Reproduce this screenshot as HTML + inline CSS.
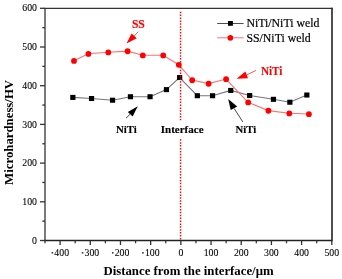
<!DOCTYPE html>
<html><head><meta charset="utf-8"><style>
html,body{margin:0;padding:0;background:#fff;}
body{width:342px;height:279px;overflow:hidden;}
svg{display:block;will-change:transform;}
text{font-family:"Liberation Serif",serif;}
.tk{font-size:11.4px;fill:#000;stroke:#000;stroke-width:0.1px;}
.lg{font-size:12px;fill:#000;stroke:#000;stroke-width:0.2px;}
.an{font-size:11.3px;font-weight:bold;stroke-width:0.15px;}
.an2{font-size:11.9px;font-weight:bold;stroke-width:0.12px;}
.ss{font-size:12px;font-weight:bold;stroke:#ff0000;stroke-width:0.2px;}
.ti{font-size:12.8px;font-weight:bold;fill:#000;}
</style></head><body>
<svg width="342" height="279" viewBox="0 0 342 279">
<line x1="44.35" y1="8.45" x2="332.7" y2="8.45" stroke="#333" stroke-width="1.3"/>
<line x1="45.0" y1="8.45" x2="45.0" y2="240.55" stroke="#333" stroke-width="1.3"/>
<line x1="332.0" y1="7.799999999999999" x2="332.0" y2="240.55" stroke="#222" stroke-width="1.6"/>
<line x1="44.35" y1="240.55" x2="332.7" y2="240.55" stroke="#222" stroke-width="1.4"/>
<line x1="40.0" y1="240.50" x2="45.0" y2="240.50" stroke="#333" stroke-width="1.3"/>
<text transform="translate(37.00,243.60) scale(0.86,1)" class="tk" text-anchor="end">0</text>
<line x1="42.3" y1="221.15" x2="45.0" y2="221.15" stroke="#333" stroke-width="1.3"/>
<line x1="40.0" y1="201.80" x2="45.0" y2="201.80" stroke="#333" stroke-width="1.3"/>
<text transform="translate(37.00,204.90) scale(0.86,1)" class="tk" text-anchor="end">100</text>
<line x1="42.3" y1="182.45" x2="45.0" y2="182.45" stroke="#333" stroke-width="1.3"/>
<line x1="40.0" y1="163.10" x2="45.0" y2="163.10" stroke="#333" stroke-width="1.3"/>
<text transform="translate(37.00,166.20) scale(0.86,1)" class="tk" text-anchor="end">200</text>
<line x1="42.3" y1="143.75" x2="45.0" y2="143.75" stroke="#333" stroke-width="1.3"/>
<line x1="40.0" y1="124.40" x2="45.0" y2="124.40" stroke="#333" stroke-width="1.3"/>
<text transform="translate(37.00,127.50) scale(0.86,1)" class="tk" text-anchor="end">300</text>
<line x1="42.3" y1="105.05" x2="45.0" y2="105.05" stroke="#333" stroke-width="1.3"/>
<line x1="40.0" y1="85.70" x2="45.0" y2="85.70" stroke="#333" stroke-width="1.3"/>
<text transform="translate(37.00,88.80) scale(0.86,1)" class="tk" text-anchor="end">400</text>
<line x1="42.3" y1="66.35" x2="45.0" y2="66.35" stroke="#333" stroke-width="1.3"/>
<line x1="40.0" y1="47.00" x2="45.0" y2="47.00" stroke="#333" stroke-width="1.3"/>
<text transform="translate(37.00,50.10) scale(0.86,1)" class="tk" text-anchor="end">500</text>
<line x1="42.3" y1="27.65" x2="45.0" y2="27.65" stroke="#333" stroke-width="1.3"/>
<line x1="40.0" y1="8.30" x2="45.0" y2="8.30" stroke="#333" stroke-width="1.3"/>
<text transform="translate(37.00,11.40) scale(0.86,1)" class="tk" text-anchor="end">600</text>
<line x1="45.00" y1="240.55" x2="45.00" y2="243.25" stroke="#333" stroke-width="1.3"/>
<line x1="60.09" y1="240.55" x2="60.09" y2="245.05" stroke="#333" stroke-width="1.3"/>
<text transform="translate(69.04,255.60) scale(0.86,1)" class="tk" text-anchor="end">400</text>
<rect x="51.59" y="252.2" width="1.6" height="1.3" fill="#111"/>
<line x1="75.18" y1="240.55" x2="75.18" y2="243.25" stroke="#333" stroke-width="1.3"/>
<line x1="90.28" y1="240.55" x2="90.28" y2="245.05" stroke="#333" stroke-width="1.3"/>
<text transform="translate(99.23,255.60) scale(0.86,1)" class="tk" text-anchor="end">300</text>
<rect x="81.78" y="252.2" width="1.6" height="1.3" fill="#111"/>
<line x1="105.38" y1="240.55" x2="105.38" y2="243.25" stroke="#333" stroke-width="1.3"/>
<line x1="120.47" y1="240.55" x2="120.47" y2="245.05" stroke="#333" stroke-width="1.3"/>
<text transform="translate(129.42,255.60) scale(0.86,1)" class="tk" text-anchor="end">200</text>
<rect x="111.97" y="252.2" width="1.6" height="1.3" fill="#111"/>
<line x1="135.56" y1="240.55" x2="135.56" y2="243.25" stroke="#333" stroke-width="1.3"/>
<line x1="150.66" y1="240.55" x2="150.66" y2="245.05" stroke="#333" stroke-width="1.3"/>
<text transform="translate(159.61,255.60) scale(0.86,1)" class="tk" text-anchor="end">100</text>
<rect x="142.16" y="252.2" width="1.6" height="1.3" fill="#111"/>
<line x1="165.75" y1="240.55" x2="165.75" y2="243.25" stroke="#333" stroke-width="1.3"/>
<line x1="180.85" y1="240.55" x2="180.85" y2="245.05" stroke="#333" stroke-width="1.3"/>
<text transform="translate(180.85,255.60) scale(0.86,1)" class="tk" text-anchor="middle">0</text>
<line x1="195.94" y1="240.55" x2="195.94" y2="243.25" stroke="#333" stroke-width="1.3"/>
<line x1="211.04" y1="240.55" x2="211.04" y2="245.05" stroke="#333" stroke-width="1.3"/>
<text transform="translate(211.04,255.60) scale(0.86,1)" class="tk" text-anchor="middle">100</text>
<line x1="226.13" y1="240.55" x2="226.13" y2="243.25" stroke="#333" stroke-width="1.3"/>
<line x1="241.23" y1="240.55" x2="241.23" y2="245.05" stroke="#333" stroke-width="1.3"/>
<text transform="translate(241.23,255.60) scale(0.86,1)" class="tk" text-anchor="middle">200</text>
<line x1="256.32" y1="240.55" x2="256.32" y2="243.25" stroke="#333" stroke-width="1.3"/>
<line x1="271.42" y1="240.55" x2="271.42" y2="245.05" stroke="#333" stroke-width="1.3"/>
<text transform="translate(271.42,255.60) scale(0.86,1)" class="tk" text-anchor="middle">300</text>
<line x1="286.51" y1="240.55" x2="286.51" y2="243.25" stroke="#333" stroke-width="1.3"/>
<line x1="301.61" y1="240.55" x2="301.61" y2="245.05" stroke="#333" stroke-width="1.3"/>
<text transform="translate(301.61,255.60) scale(0.86,1)" class="tk" text-anchor="middle">400</text>
<line x1="316.70" y1="240.55" x2="316.70" y2="243.25" stroke="#333" stroke-width="1.3"/>
<line x1="331.80" y1="240.55" x2="331.80" y2="245.05" stroke="#333" stroke-width="1.3"/>
<text transform="translate(331.80,255.60) scale(0.86,1)" class="tk" text-anchor="middle">500</text>
<polyline points="72.8,97.4 91.5,98.5 112.5,100.2 130.4,96.7 150,96.7 166.4,89.6 179.6,77.5 197.3,95.7 212.5,95.7 230.7,90.4 249.6,95.5 273.4,99.3 289.8,102.2 306.8,95" fill="none" stroke="#777" stroke-width="1.1"/>
<polyline points="73.9,60.8 88.3,53.8 108.2,52.3 127.5,51.1 142.7,55.3 163.1,55.3 178.7,64.7 192.1,80.1 208.5,83.6 226,79 248.1,102.3 268.3,110.6 289.2,113.3 308.8,114" fill="none" stroke="#ff7070" stroke-width="1.1"/>
<rect x="70.25" y="94.90" width="5.2" height="5.05" fill="#000"/>
<rect x="88.95" y="96.00" width="5.2" height="5.05" fill="#000"/>
<rect x="109.95" y="97.70" width="5.2" height="5.05" fill="#000"/>
<rect x="127.85" y="94.20" width="5.2" height="5.05" fill="#000"/>
<rect x="147.45" y="94.20" width="5.2" height="5.05" fill="#000"/>
<rect x="163.85" y="87.10" width="5.2" height="5.05" fill="#000"/>
<rect x="177.05" y="75.00" width="5.2" height="5.05" fill="#000"/>
<rect x="194.75" y="93.20" width="5.2" height="5.05" fill="#000"/>
<rect x="209.95" y="93.20" width="5.2" height="5.05" fill="#000"/>
<rect x="228.15" y="87.90" width="5.2" height="5.05" fill="#000"/>
<rect x="247.05" y="93.00" width="5.2" height="5.05" fill="#000"/>
<rect x="270.85" y="96.80" width="5.2" height="5.05" fill="#000"/>
<rect x="287.25" y="99.70" width="5.2" height="5.05" fill="#000"/>
<rect x="304.25" y="92.50" width="5.2" height="5.05" fill="#000"/>
<circle cx="74.00" cy="60.95" r="2.88" fill="#ff0000"/>
<circle cx="88.40" cy="53.95" r="2.88" fill="#ff0000"/>
<circle cx="108.30" cy="52.45" r="2.88" fill="#ff0000"/>
<circle cx="127.60" cy="51.25" r="2.88" fill="#ff0000"/>
<circle cx="142.80" cy="55.45" r="2.88" fill="#ff0000"/>
<circle cx="163.20" cy="55.45" r="2.88" fill="#ff0000"/>
<circle cx="178.80" cy="64.85" r="2.88" fill="#ff0000"/>
<circle cx="192.20" cy="80.25" r="2.88" fill="#ff0000"/>
<circle cx="208.60" cy="83.75" r="2.88" fill="#ff0000"/>
<circle cx="226.10" cy="79.15" r="2.88" fill="#ff0000"/>
<circle cx="248.20" cy="102.45" r="2.88" fill="#ff0000"/>
<circle cx="268.40" cy="110.75" r="2.88" fill="#ff0000"/>
<circle cx="289.30" cy="113.45" r="2.88" fill="#ff0000"/>
<circle cx="308.90" cy="114.15" r="2.88" fill="#ff0000"/>
<line x1="180.55" y1="11.7" x2="180.55" y2="239.75" stroke="#ff0000" stroke-width="1.45" stroke-dasharray="1.5 1.4"/>
<line x1="217.2" y1="23.5" x2="243.6" y2="23.5" stroke="#444" stroke-width="0.95"/>
<rect x="228.0" y="21.0" width="4.9" height="4.8" fill="#000"/>
<text transform="translate(246.40,27.20) scale(0.985,1)" class="lg">NiTi/NiTi weld</text>
<line x1="217.2" y1="37.8" x2="243.6" y2="37.8" stroke="#ff7070" stroke-width="1"/>
<circle cx="230.35" cy="37.85" r="2.85" fill="#ff0000"/>
<text transform="translate(246.40,41.90) scale(0.985,1)" class="lg">SS/NiTi weld</text>
<text transform="translate(131.90,27.80) scale(0.97,1)" class="ss" fill="#ff0000">SS</text>
<line x1="134.2" y1="35.9" x2="138.4" y2="31.7" stroke="#ff4040" stroke-width="0.9"/>
<polygon points="126.5,43.4 131.6,33.5 136.8,38.3" fill="#ff0000"/>
<text transform="translate(260.90,74.60) scale(0.94,1)" class="an2" fill="#ff0000" stroke="#ff0000">NiTi</text>
<line x1="246.7" y1="74.9" x2="255.9" y2="70.5" stroke="#ff4040" stroke-width="0.9"/>
<polygon points="236.6,78.7 245.4,71.5 248,78.2" fill="#ff0000"/>
<text transform="translate(116.10,132.80) scale(0.95,1)" class="an" stroke="#000">NiTi</text>
<line x1="130.2" y1="114.2" x2="126" y2="118.2" stroke="#333" stroke-width="0.9"/>
<polygon points="137.8,106.3 127.8,111.9 132.6,116.6" fill="#000"/>
<rect x="160" y="120.4" width="44" height="18.3" fill="#fff"/>
<text transform="translate(160.80,133.00) scale(0.975,1)" class="an" stroke="#000">Interface</text>
<text transform="translate(235.60,132.60) scale(0.95,1)" class="an" stroke="#000">NiTi</text>
<line x1="234" y1="108.3" x2="242.9" y2="122" stroke="#333" stroke-width="0.9"/>
<polygon points="228.2,99 230.7,110 237.2,106.5" fill="#000"/>
<text transform="translate(188.50,275.20)" class="ti" text-anchor="middle">Distance from the interface/μm</text>
<text transform="translate(12.80,132.40) rotate(-90)" class="ti" text-anchor="middle">Microhardness/HV</text>
</svg>
</body></html>
